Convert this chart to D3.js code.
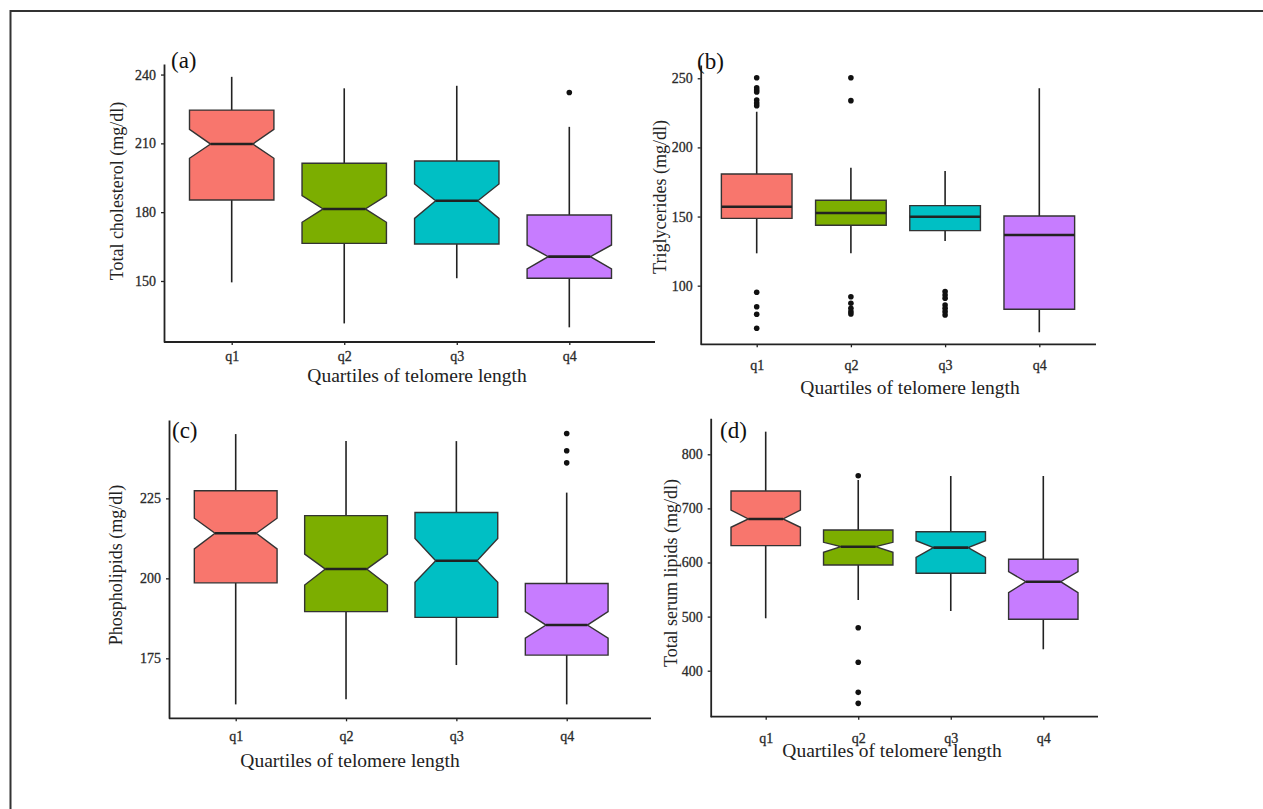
<!DOCTYPE html>
<html lang="en">
    <head>
        <meta charset="utf-8">
        <title>Serum lipids by telomere length quartile</title>
        <script src="https://d3js.org/d3.v7.min.js"></script>
        <style type="text/css">
         body { margin: 0; background: #fff; }
         text { font-family: "Liberation Serif", "Times New Roman", serif; }
        </style>
    </head>
    <body>
        <script type="text/javascript">

        const svgW = 1263;
        const svgH = 809;

        //categories + ggplot default hues
        const quartiles = ["q1", "q2", "q3", "q4"];
        const fills = ["#F8766D", "#7CAE00", "#00BFC4", "#C77CFF"];

        //box stats per quartile: [low whisker, Q1, notch low, median, notch high, Q3, high whisker]
        const cholStats = [
            [149.4, 185.3, 203.5, 209.7, 216.1, 224.5, 239.0],
            [131.5, 166.4, 175.6, 181.4, 187.2, 201.3, 234.0],
            [151.2, 166.1, 177.3, 185.0, 192.3, 202.3, 235.1],
            [129.8, 151.2, 155.3, 160.6, 165.7, 178.8, 217.2]
        ];
        const cholOutliers = [[], [], [], [232.2]];
        const cholTicks = [150, 180, 210, 240];

        //triglycerides are drawn without notches
        const trigStats = [
            [123.4, 148.7, null, 157.1, null, 180.8, 225.8],
            [123.4, 143.7, null, 152.6, null, 161.8, 185.3],
            [132.3, 139.8, null, 149.9, null, 157.9, 183.0],
            [66.3, 82.9, null, 136.7, null, 150.4, 242.8]
        ];
        const trigOutliers = [
            [250.4, 243.2, 241.5, 240.1, 234.3, 232.1, 230.2, 95.2, 84.8, 79.3, 69.2],
            [250.4, 233.8, 92.0, 87.3, 83.7, 81.2, 79.5],
            [95.7, 93.3, 90.9, 86.0, 83.7, 81.2, 78.8],
            []
        ];
        const trigTicks = [100, 150, 200, 250];

        const phosStats = [
            [160.6, 198.6, 209.2, 214.1, 218.8, 227.4, 245.1],
            [162.2, 189.6, 197.9, 202.9, 207.6, 219.6, 242.9],
            [172.9, 187.8, 198.8, 205.5, 212.5, 220.6, 242.9],
            [160.6, 176.0, 181.3, 185.4, 189.6, 198.4, 226.8]
        ];
        const phosOutliers = [[], [], [], [245.3, 239.9, 236.1]];
        const phosTicks = [175, 200, 225];

        const lipStats = [
            [496.9, 631.1, 665.1, 680.4, 697.0, 732.2, 841.8],
            [530.7, 595.4, 618.9, 629.2, 637.3, 660.1, 752.5],
            [510.3, 580.0, 609.6, 627.4, 640.3, 656.9, 759.9],
            [439.6, 495.0, 544.2, 564.5, 583.0, 605.9, 759.9]
        ];
        const lipOutliers = [[], [760.4, 479.5, 415.5, 360.0, 339.7], [], []];
        const lipTicks = [400, 500, 600, 700, 800];

        const xTitle = "Quartiles of telomere length";

        //panel layout (pixel positions of the four plots)
        const panels = [
            {stats: cholStats, out: cholOutliers, ticks: cholTicks, label: "(a)",
             title: "Total cholesterol (mg/dl)", domain: [123.4, 244.6],
             left: 164, right: 655, top: 64, bottom: 342, x1: 231.7, x4: 569.3, pad: 6,
             lab: [171, 68], xt: [417, 382], yt: [123, 191]},
            {stats: trigStats, out: trigOutliers, ticks: trigTicks, label: "(b)",
             title: "Triglycerides (mg/dl)", domain: [57.6, 259.6],
             left: 700.7, right: 1096, top: 65, bottom: 344.3, x1: 756.7, x4: 1039.3, pad: 13,
             lab: [697, 68.5], xt: [910, 394], yt: [666, 197]},
            {stats: phosStats, out: phosOutliers, ticks: phosTicks, label: "(c)",
             title: "Phospholipids (mg/dl)", domain: [156.25, 249.5],
             left: 169, right: 651, top: 420, bottom: 718.3, x1: 235.7, x4: 566.7, pad: 10,
             lab: [172, 438], xt: [350, 767], yt: [122, 565]},
            {stats: lipStats, out: lipOutliers, ticks: lipTicks, label: "(d)",
             title: "Total serum lipids (mg/dl)", domain: [315, 866.5],
             left: 710.7, right: 1098, top: 418.3, bottom: 716.7, x1: 765.7, x4: 1043.3, pad: 13,
             lab: [720, 437.5], xt: [892, 757], yt: [677, 573]}
        ];

        //SVG
        const svg = d3.select("body")
                .append("svg")
                .attr("width", svgW)
                .attr("height", svgH);

        //frame lines (top + left only, figure is cropped)
        svg.append("path")
           .attr("d", "M10.5,809 L10.5,11 L1263,11")
           .attr("fill", "none")
           .attr("stroke", "#333")
           .attr("stroke-width", 2);

        panels.forEach(p => {
            const g = svg.append("g");

            const x = d3.scalePoint()
                        .domain(quartiles)
                        .range([p.x1, p.x4]);
            const y = d3.scaleLinear()
                        .domain(p.domain)
                        .range([p.bottom, p.top]);
            const boxW = 0.75 * x.step();

            //axes
            const yAxis = g.append("g")
                .attr("transform", "translate(" + p.left + ",0)")
                .call(d3.axisLeft(y).tickValues(p.ticks).tickSize(3).tickSizeOuter(0).tickPadding(5));
            const xAxis = g.append("g")
                .attr("transform", "translate(0," + p.bottom + ")")
                .call(d3.axisBottom(x).tickSize(3).tickPadding(p.pad));
            xAxis.select(".domain").remove();
            g.append("line")
             .attr("x1", p.left).attr("x2", p.right)
             .attr("y1", p.bottom).attr("y2", p.bottom)
             .attr("stroke", "#222").attr("stroke-width", 1.8);
            [yAxis, xAxis].forEach(a => {
                a.selectAll("text")
                 .attr("font-family", "Liberation Serif")
                 .attr("font-size", 14)
                 .attr("fill", "#2a2a2a")
                 .attr("stroke", "#2a2a2a")
                 .attr("stroke-width", 0.3);
                a.selectAll("line").attr("stroke", "#222").attr("stroke-width", 1.3);
            });
            yAxis.select(".domain").attr("stroke", "#222").attr("stroke-width", 1.8);

            //boxes
            const box = g.selectAll(".box")
                .data(p.stats)
                .enter()
                .append("g")
                .attr("class", "box");

            //whiskers
            box.append("line")
               .attr("x1", (d, i) => x(quartiles[i]))
               .attr("x2", (d, i) => x(quartiles[i]))
               .attr("y1", d => y(d[6]))
               .attr("y2", d => y(d[5]))
               .attr("stroke", "#222").attr("stroke-width", 1.6);
            box.append("line")
               .attr("x1", (d, i) => x(quartiles[i]))
               .attr("x2", (d, i) => x(quartiles[i]))
               .attr("y1", d => y(d[1]))
               .attr("y2", d => y(d[0]))
               .attr("stroke", "#222").attr("stroke-width", 1.6);

            //box body (notched when notch values exist)
            box.append("path")
               .attr("d", (d, i) => {
                   const xc = x(quartiles[i]);
                   const x0 = xc - boxW / 2, x1 = xc + boxW / 2;
                   const ind = boxW / 4;
                   if (d[2] == null) {
                       return "M" + [x0, y(d[5])] + " L" + [x1, y(d[5])] + " L" + [x1, y(d[1])] +
                              " L" + [x0, y(d[1])] + " Z";
                   }
                   return "M" + [x0, y(d[5])] + " L" + [x0, y(d[4])] + " L" + [x0 + ind, y(d[3])] +
                          " L" + [x0, y(d[2])] + " L" + [x0, y(d[1])] + " L" + [x1, y(d[1])] +
                          " L" + [x1, y(d[2])] + " L" + [x1 - ind, y(d[3])] + " L" + [x1, y(d[4])] +
                          " L" + [x1, y(d[5])] + " Z";
               })
               .attr("fill", (d, i) => fills[i])
               .attr("stroke", "#333")
               .attr("stroke-width", 1.4);

            //median
            box.append("line")
               .attr("x1", (d, i) => x(quartiles[i]) - boxW / 2 + (d[2] == null ? 0 : boxW / 4))
               .attr("x2", (d, i) => x(quartiles[i]) + boxW / 2 - (d[2] == null ? 0 : boxW / 4))
               .attr("y1", d => y(d[3]))
               .attr("y2", d => y(d[3]))
               .attr("stroke", "#222").attr("stroke-width", 2.6);

            //outliers
            p.out.forEach((vals, i) => {
                g.selectAll(null)
                 .data(vals)
                 .enter()
                 .append("circle")
                 .attr("cx", x(quartiles[i]))
                 .attr("cy", d => y(d))
                 .attr("r", 2.8)
                 .attr("fill", "#111");
            });

            //labels
            g.append("text")
             .attr("x", p.lab[0]).attr("y", p.lab[1])
             .attr("font-size", 23)
             .attr("fill", "#111")
             .text(p.label);
            g.append("text")
             .attr("x", p.xt[0]).attr("y", p.xt[1])
             .attr("text-anchor", "middle")
             .attr("font-size", 19.5)
             .attr("fill", "#222")
             .text(xTitle);
            g.append("text")
             .attr("transform", "translate(" + p.yt[0] + "," + p.yt[1] + ") rotate(-90)")
             .attr("text-anchor", "middle")
             .attr("font-size", 18)
             .attr("fill", "#222")
             .text(p.title);
        });
        </script>
    </body>
</html>
